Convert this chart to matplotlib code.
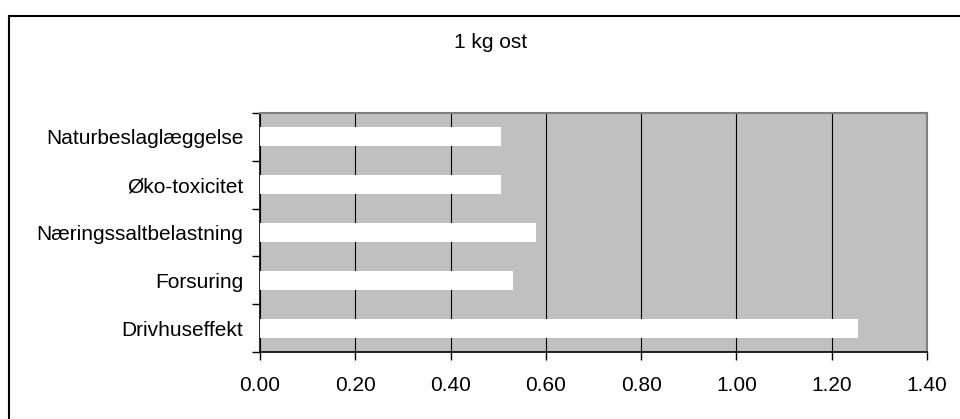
import matplotlib
matplotlib.use("Agg")
import matplotlib.pyplot as plt
from matplotlib.lines import Line2D

categories = ["Drivhuseffekt", "Forsuring", "Næringssaltbelastning", "Øko-toxicitet", "Naturbeslaglæggelse"]
values = [1.256, 0.531, 0.580, 0.506, 0.506]
xticks = [0.0, 0.2, 0.4, 0.6, 0.8, 1.0, 1.2, 1.4]
xticklabels = ["0.00", "0.20", "0.40", "0.60", "0.80", "1.00", "1.20", "1.40"]
title = "1 kg ost"

plt.rcParams['font.family'] = ['Liberation Sans', 'DejaVu Sans']
FS = 15

W, H = 960, 419
fig = plt.figure(figsize=(W / 100, H / 100), dpi=100)

# outer chart frame (top and left edges visible)
fig.add_artist(Line2D([9 / W, 1.0], [1 - 16 / H, 1 - 16 / H], color="black", lw=1.5, transform=fig.transFigure))
fig.add_artist(Line2D([9 / W, 9 / W], [0, 1 - 16 / H], color="black", lw=1.5, transform=fig.transFigure))

left, right, top, bottom = 260, 927, 113, 352
ax = fig.add_axes([left / W, 1 - bottom / H, (right - left) / W, (bottom - top) / H])
ax.set_facecolor("#C0C0C0")

ypos = list(range(len(categories)))
ax.barh(ypos, values, height=0.4, color="white", edgecolor="none", zorder=3)
ax.set_xlim(0, 1.4)
ax.set_ylim(-0.5, len(categories) - 0.5)

ax.set_xticks(xticks)
ax.set_xticklabels(xticklabels, fontsize=FS)
ax.xaxis.grid(True, color="black", lw=0.8, zorder=1)
ax.set_axisbelow(True)

ax.set_yticks([y - 0.5 for y in range(len(categories) + 1)])
ax.set_yticklabels([])
ax.set_yticks(ypos, minor=True)
ax.set_yticklabels(categories, minor=True, fontsize=FS)
ax.tick_params(axis="y", which="minor", length=0, pad=12)
ax.tick_params(axis="y", which="major", length=6, width=1, direction="out")
ax.tick_params(axis="x", length=6, width=1, direction="out", pad=11)

for s in ["top", "right"]:
    ax.spines[s].set_color("#808080")
    ax.spines[s].set_linewidth(1.5)
for s in ["left", "bottom"]:
    ax.spines[s].set_color("black")
    ax.spines[s].set_linewidth(1.2)

fig.text(491 / W, 1 - 43 / H, title, ha="center", va="center", fontsize=FS)

fig.savefig("out.png", dpi=100)
